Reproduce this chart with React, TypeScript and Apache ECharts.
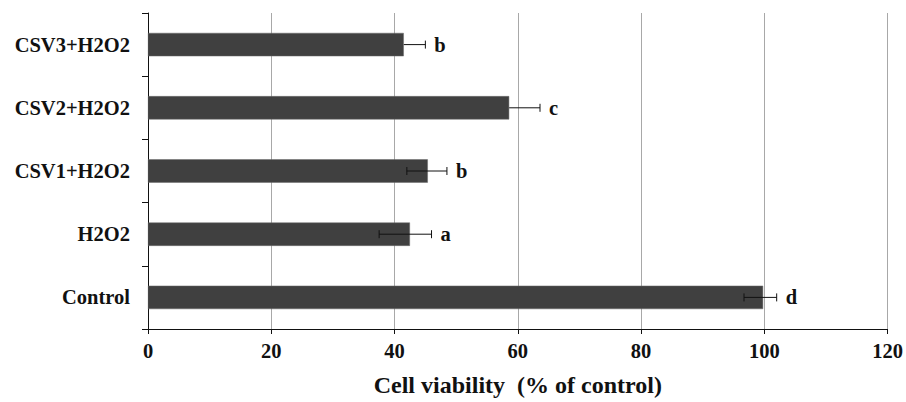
import React, { useEffect, useRef } from "react";
import * as echarts from "echarts";

const categories = ["Control", "H2O2", "CSV1+H2O2", "CSV2+H2O2", "CSV3+H2O2"];
const values = [99.8, 42.5, 45.4, 58.6, 41.5];
const errLower = [96.7, 37.5, 42.0, 58.6, 41.5];
const errUpper = [102.0, 46.0, 48.5, 63.6, 45.0];
const letters = ["d", "a", "b", "c", "b"];
const xTicks = [0, 20, 40, 60, 80, 100, 120];

const FONT = "'Liberation Serif', 'Times New Roman', serif";

export default function App() {
  const ref = useRef<HTMLDivElement>(null);
  useEffect(() => {
    if (!ref.current) return;
    const chart = echarts.init(ref.current, null, { renderer: "svg" });
    const errData = categories.map((_, i) => [i, errLower[i], errUpper[i], values[i]]);
    chart.setOption({
      animation: false,
      backgroundColor: "#ffffff",
      grid: { left: 148, right: 18, top: 13, bottom: 65, containLabel: false },
      xAxis: {
        type: "value",
        min: xTicks[0],
        max: xTicks[xTicks.length - 1],
        interval: 20,
        name: "Cell viability  (% of control)",
        nameLocation: "middle",
        nameGap: 44,
        nameTextStyle: { fontFamily: FONT, fontWeight: "bold", fontSize: 24, color: "#111" },
        axisLine: { show: true, lineStyle: { color: "#111", width: 1 } },
        axisTick: { show: true, length: 5, lineStyle: { color: "#111" } },
        axisLabel: { margin: 11, fontFamily: FONT, fontWeight: "bold", fontSize: 20.5, color: "#111" },
        splitLine: { show: true, lineStyle: { color: "#a8a8a8", width: 1 } },
      },
      yAxis: {
        type: "category",
        data: categories,
        axisLine: { show: true, lineStyle: { color: "#111", width: 1 } },
        axisTick: { show: true, length: 6, lineStyle: { color: "#111" } },
        axisLabel: { margin: 18, fontFamily: FONT, fontWeight: "bold", fontSize: 20.5, color: "#111" },
        splitLine: { show: false },
      },
      series: [
        {
          type: "bar",
          data: values,
          barWidth: "37%",
          itemStyle: { color: "#404040", borderColor: "#6a6a6a", borderWidth: 0.5 },
        },
        {
          type: "custom",
          data: errData,
          z: 10,
          renderItem: (params: any, api: any) => {
            const idx = api.value(0);
            const lo = api.coord([api.value(1), idx]);
            const hi = api.coord([api.value(2), idx]);
            const bar = api.coord([api.value(3), idx]);
            const y = hi[1];
            const cap = 4;
            const children: any[] = [
              {
                type: "line",
                shape: { x1: lo[0], y1: y, x2: hi[0], y2: y },
                style: { stroke: "#111", lineWidth: 1 },
              },
              {
                type: "line",
                shape: { x1: hi[0], y1: y - cap, x2: hi[0], y2: y + cap },
                style: { stroke: "#111", lineWidth: 1 },
              },
            ];
            if (lo[0] < bar[0] - 0.5) {
              children.push({
                type: "line",
                shape: { x1: lo[0], y1: y - cap, x2: lo[0], y2: y + cap },
                style: { stroke: "#111", lineWidth: 1 },
              });
            }
            children.push({
              type: "text",
              style: {
                x: hi[0] + 9,
                y: y,
                text: letters[params.dataIndex],
                fontFamily: FONT,
                fontWeight: "bold",
                fontSize: 20.5,
                fill: "#111",
                verticalAlign: "middle",
                align: "left",
              },
            });
            return { type: "group", children };
          },
        },
      ],
    });
    return () => chart.dispose();
  }, []);
  return <div ref={ref} style={{ width: 906, height: 402, position: "absolute", left: 0, top: 0 }} />;
}
